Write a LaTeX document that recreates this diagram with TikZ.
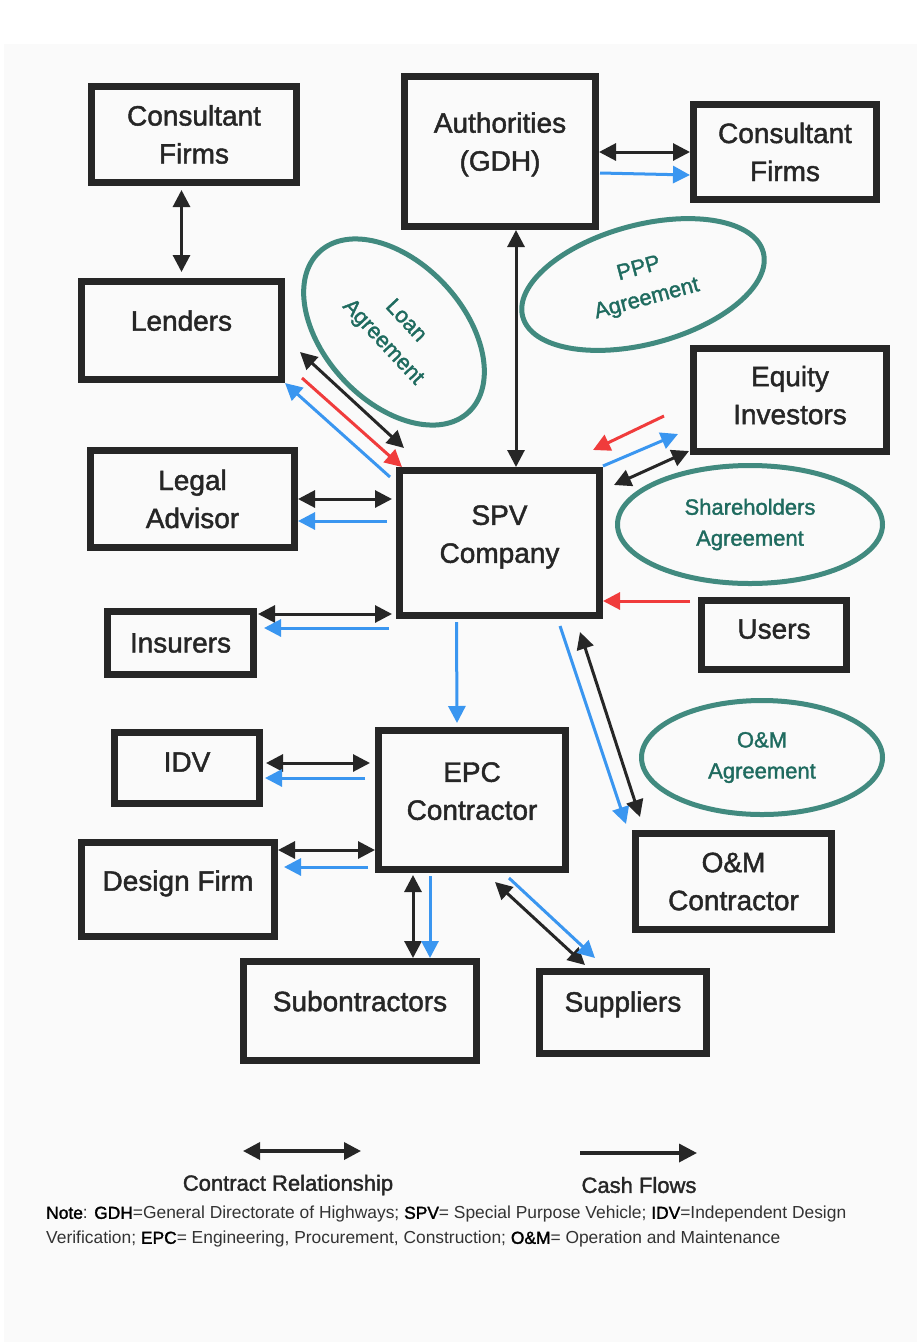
\documentclass[tikz,border=0pt]{standalone}
\usepackage{fontspec}
\setmainfont{Liberation Sans}
\newfontfamily\medfont{Liberation Sans}[FakeBold=1.6]
\usetikzlibrary{arrows.meta,calc,shapes.geometric}
\definecolor{boxline}{HTML}{262626}
\definecolor{agrline}{HTML}{418A7F}
\definecolor{agrtext}{HTML}{1F6B5F}
\definecolor{cashblue}{HTML}{3A96F0}
\definecolor{flowred}{HTML}{F03C3C}
\definecolor{bggray}{HTML}{FAFAFA}
\definecolor{notegray}{HTML}{333333}
\newcommand{\abbr}[1]{{\medfont\color{black}#1}}
\begin{document}
\begin{tikzpicture}[x=1pt,y=-1pt,
  box/.style={draw=boxline,line width=7pt,inner sep=0pt,align=center,text=boxline,
    font=\medfont\fontsize{28}{38}\selectfont},
  lift/.style={text depth=#1},
  agr/.style={ellipse,draw=agrline,line width=5pt,inner sep=0pt,align=center,text=agrtext,
    font=\medfont\fontsize{22}{31}\selectfont},
  contract/.style={draw=boxline,line width=3pt,{Triangle[length=17pt,width=17pt]}-{Triangle[length=17pt,width=17pt]}},
  cash/.style={draw=cashblue,line width=3pt,-{Triangle[length=17pt,width=17pt]}},
  inflow/.style={draw=flowred,line width=3pt,-{Triangle[length=17pt,width=17pt]}},
  keyline/.style={draw=boxline,line width=3.5pt,-{Triangle[length=18pt,width=18pt]}},
  legend/.style={text=boxline,font=\medfont\fontsize{22}{25}\selectfont}]
\useasboundingbox (0,0) rectangle (917,1342);
\fill[white] (0,0) rectangle (917,1342);
\fill[bggray] (4,44) rectangle (917,1342);

\node[box,minimum width=205pt,minimum height=96pt] (cons1) at (194,134.5) {Consultant\\Firms};
\node[box,minimum width=191pt,minimum height=150pt,lift=20pt] (auth) at (500,151.5) {Authorities\\(GDH)};
\node[box,minimum width=183pt,minimum height=95pt] (cons2) at (785,152) {Consultant\\Firms};
\node[box,minimum width=200pt,minimum height=98pt,lift=20pt] (lenders) at (181.5,330.5) {Lenders};
\node[box,minimum width=193pt,minimum height=103pt,lift=10pt] (equity) at (790,400) {Equity\\Investors};
\node[box,minimum width=204pt,minimum height=97pt] (legal) at (192.5,499) {Legal\\Advisor};
\node[box,minimum width=200pt,minimum height=145pt,lift=18pt] (spv) at (499.5,543) {SPV\\Company};
\node[box,minimum width=146pt,minimum height=63pt] (insurers) at (180.5,643) {Insurers};
\node[box,minimum width=145pt,minimum height=69pt,lift=12pt] (users) at (774,635) {Users};
\node[box,minimum width=145pt,minimum height=71pt,lift=12pt] (idv) at (187,768) {IDV};
\node[box,minimum width=187pt,minimum height=139pt,lift=18pt] (epc) at (472,800) {EPC\\Contractor};
\node[box,minimum width=193pt,minimum height=94pt,lift=18pt] (design) at (178,889.5) {Design Firm};
\node[box,minimum width=196pt,minimum height=96pt] (om) at (733.5,881.5) {O\&M\\Contractor};
\node[box,minimum width=233pt,minimum height=99pt,lift=20pt] (sub) at (360,1011) {Subontractors};
\node[box,minimum width=167pt,minimum height=82pt,lift=22pt] (supp) at (623,1012.5) {Suppliers};

\node[agr,minimum width=219pt,minimum height=139pt,rotate=-47] (loan) at (394,332) {Loan\\Agreement};
\node[agr,minimum width=249pt,minimum height=119pt,rotate=15] (ppp) at (643,284.5) {PPP\\Agreement};
\node[agr,minimum width=265pt,minimum height=118pt] (sha) at (750,524.5) {Shareholders\\Agreement};
\node[agr,minimum width=241pt,minimum height=114pt] (omagr) at (762,757.5) {O\&M\\Agreement};

\draw[contract] ($(cons1.south -| lenders.north)+(0,4)$) -- ($(lenders.north)+(0,-6)$);
\draw[contract] (auth.east |- cons2.west) -- (cons2.west);
\draw[cash] ($(auth.east |- cons2.west)+(1,21)$) -- ($(cons2.west)+(0,23)$);
\draw[contract] ($(auth.south)+(16,0)$) -- ($(spv.north)+(16.5,0)$);
\draw[contract] ($(lenders.south east)+(15,-31)$) -- ($(spv.north west)+(8,-19)$);
\draw[inflow] ($(lenders.south east)+(17,-5)$) -- ($(spv.north west)+(6,0)$);
\draw[cash] ($(spv.north west)+(-6,10)$) -- (lenders.south east);
\draw[inflow] ($(equity.south west)+(-26,-39)$) -- ($(spv.north east)+(-10,-17)$);
\draw[cash] ($(spv.north east)+(0,-1)$) -- ($(equity.south west)+(-12,-21)$);
\draw[contract] ($(equity.south west)+(-1,-4)$) -- ($(spv.north east)+(11,18)$);
\draw[contract] (legal.east) -- ($(legal.east -| spv.west)+(-4,0)$);
\draw[cash] ($(legal.east -| spv.west)+(-9,22)$) -- ($(legal.east)+(0,22)$);
\draw[inflow] ($(users.north west)+(-8,4)$) -- ($(users.north west -| spv.east)+(0,4)$);
\draw[contract] ($(insurers.north east)+(1,6)$) -- ($(spv.south west)+(-4,-5)$);
\draw[cash] ($(spv.south west)+(-7,9)$) -- ($(insurers.north east)+(7,20)$);
\draw[cash] ($(spv.south)+(-43,3)$) -- ($(epc.north)+(-15,-4)$);
\draw[cash] ($(spv.south east)+(-43,7)$) -- ($(om.north west)+(-6,-6)$);
\draw[contract] ($(spv.south east)+(-23,13)$) -- ($(om.north west)+(8,-13)$);
\draw[contract] ($(idv.east)+(3,-5)$) -- ($(idv.east -| epc.west)+(-5,-5)$);
\draw[cash] ($(idv.east -| epc.west)+(-10,10)$) -- ($(idv.east)+(2,10)$);
\draw[contract] ($(design.north east)+(0,11)$) -- ($(design.north east -| epc.west)+(0,11)$);
\draw[cash] ($(design.north east -| epc.west)+(-7,28)$) -- ($(design.north east)+(6,28)$);
\draw[contract] ($(epc.south west)+(38,2)$) -- ($(sub.north -| epc.south west)+(38,0)$);
\draw[cash] ($(epc.south west)+(55,3)$) -- ($(sub.north -| epc.south west)+(55,0)$);
\draw[contract] ($(epc.south east)+(-74,9)$) -- ($(supp.north west)+(49,-3)$);
\draw[cash] ($(epc.south east)+(-60,5)$) -- ($(supp.north west)+(59,-10)$);

\coordinate (crL) at (243,1151);
\coordinate (crR) at (361,1151);
\draw[contract,line width=3.5pt] (crL) -- (crR);
\node[legend] (crtext) at (288,1185) {Contract Relationship};
\coordinate (cfL) at (580,1153);
\coordinate (cfR) at (697,1153);
\draw[keyline] (cfL) -- (cfR);
\node[legend] (cftext) at (639,1185) {Cash Flows};

\node[anchor=north west,align=left,inner sep=0pt,text=notegray,font=\fontsize{17.4}{25}\selectfont] (note) at (46,1206)
  {\abbr{Note}: \abbr{GDH}=General Directorate of Highways; \abbr{SPV}= Special Purpose Vehicle; \abbr{IDV}=Independent Design\\
   Verification; \abbr{EPC}= Engineering, Procurement, Construction; \abbr{O\&M}= Operation and Maintenance};
\end{tikzpicture}
\end{document}
